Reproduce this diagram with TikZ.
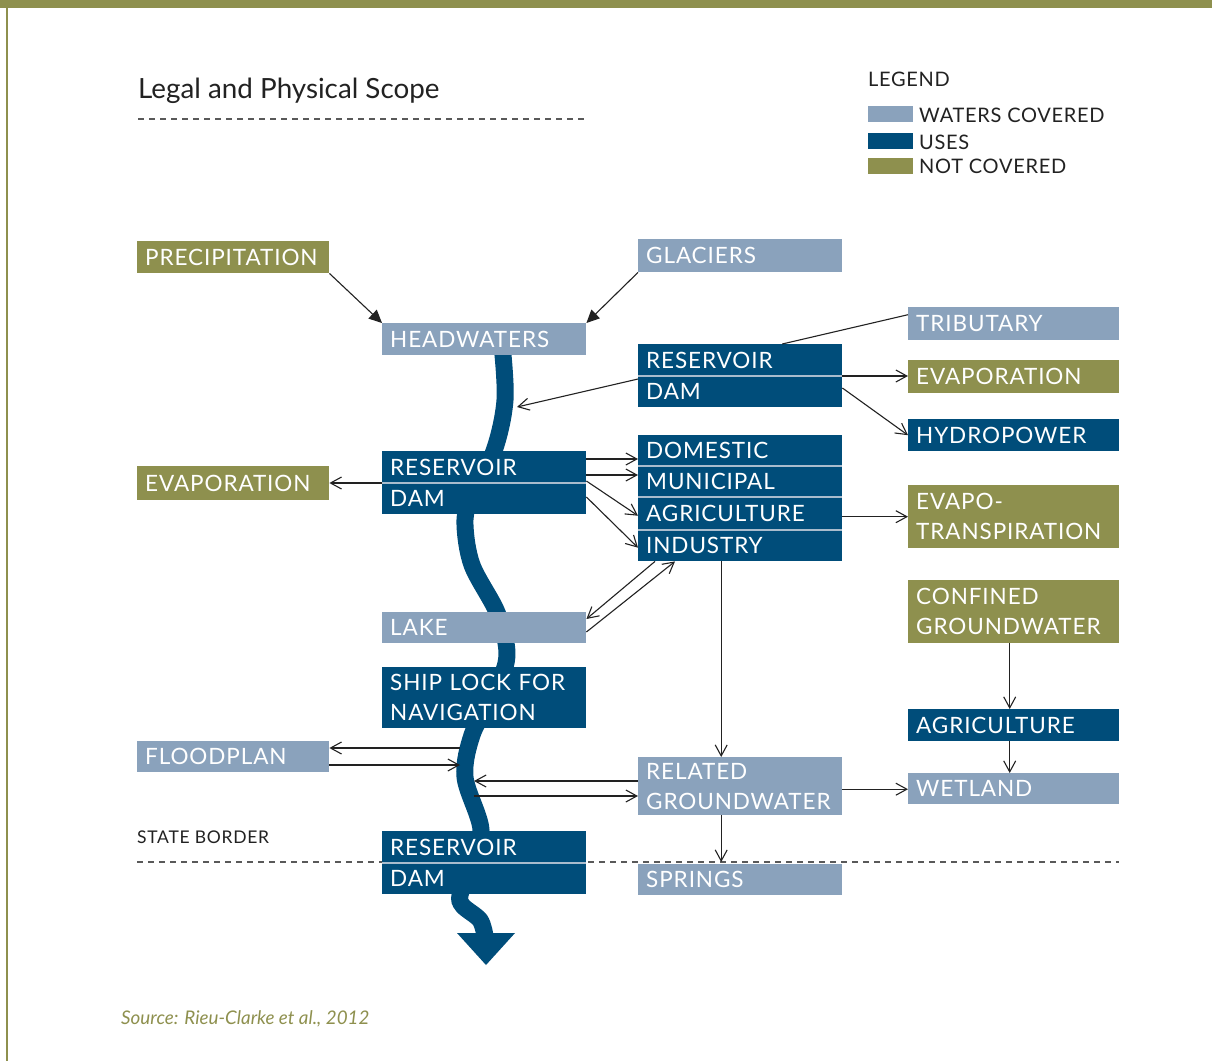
\documentclass[tikz,border=0pt]{standalone}
\usepackage{fontspec}
\setmainfont{Lato}
\newfontfamily\boxfont{Lato}[LetterSpace=4]
\newfontfamily\legfont{Lato}[LetterSpace=3.5]
\usetikzlibrary{arrows.meta}
\definecolor{olive}{HTML}{8E904E}
\definecolor{lblue}{HTML}{8AA2BC}
\definecolor{dblue}{HTML}{004D7A}
\definecolor{divc}{HTML}{A9BCCD}
\definecolor{inkc}{HTML}{222222}
\begin{document}
\begin{tikzpicture}[x=1pt,y=-1pt,
  bx/.style={anchor=north west, inner xsep=8pt, inner ysep=0pt, align=left, text=white,
    font=\boxfont\fontsize{22.5}{30}\selectfont, minimum height=#1},
  wA/.style={text width=188pt},
  wL/.style={text width=176pt},
  wR/.style={text width=195pt},
  wc/.style={fill=lblue}, us/.style={fill=dblue}, ncv/.style={fill=olive},
  divider/.style={draw=divc, line width=2pt},
  conn/.style={draw=inkc, line width=1.1pt, -{Straight Barb[length=11pt,width=12pt,line width=1.1pt]}},
  fconn/.style={draw=inkc, line width=1.1pt, -{Triangle[length=13pt,width=12pt]}},
  plain/.style={draw=inkc, line width=1.1pt},
  dashline/.style={draw=black!65, line width=1.1pt, dash pattern=on 6pt off 5pt},
  swatch/.style={anchor=north west, inner sep=0pt, minimum width=45pt, minimum height=16pt},
  legtext/.style={anchor=base west, inner sep=0pt, text=inkc, font=\legfont\fontsize{20}{24}\selectfont}
]
\useasboundingbox (0,0) rectangle (1212,1061);
\fill[white] (0,0) rectangle (1212,1061);
% frame
\fill[olive] (0,0) rectangle (1212,8);
\fill[olive] (6,0) rectangle (8,1061);

% title
\node[anchor=base west, inner sep=0pt, text=inkc, font=\fontsize{27.8}{34}\selectfont] (title) at (138,98) {Legal and Physical Scope};
\draw[dashline] (138,119) -- (585,119);

% legend
\node[legtext] (leg) at (868,86) {LEGEND};
\node[swatch, fill=lblue] (s1) at (868,106) {};
\node[swatch, fill=dblue] (s2) at (868,133) {};
\node[swatch, fill=olive] (s3) at (868,158) {};
\node[legtext] (l1) at (919,122) {WATERS COVERED};
\node[legtext] (l2) at (919,149) {USES};
\node[legtext] (l3) at (919,173) {NOT COVERED};

% state border
\node[anchor=base west, inner sep=0pt, text=inkc, font=\boxfont\fontsize{17.5}{20}\selectfont] (sb) at (137,843) {STATE BORDER};
\draw[dashline] (137,862) -- (1119,862);

% river
\draw[dblue, line width=17pt] plot[smooth, tension=0.55] coordinates {
  (502,345) (505,400) (494,451) (470,500) (465,525) (472,565) (496,610) (506,643)
  (505,667) (490,700) (472,735) (465,777) (481,830) (470,870) (460,895) (463,906) (480,920) (485,936)};
\fill[dblue] (457,933) -- (515,933) -- (486,965) -- cycle;

% boxes
\node[bx=32pt,wL,ncv] (prec) at (137,241) {PRECIPITATION};
\node[bx=33pt,wA,wc] (glac) at (638,239) {GLACIERS};
\node[bx=32pt,wA,wc] (head) at (382,323) {HEADWATERS};
\node[bx=33pt,wR,wc] (trib) at (908,307) {TRIBUTARY};
\node[bx=32pt,wA,us] (res1) at (638,344) {RESERVOIR};
\node[bx=31pt,wA,us] (dam1) at (638,376) {DAM};
\draw[divider] (dam1.north west) -- (dam1.north east);
\node[bx=33pt,wR,ncv] (evr) at (908,360) {EVAPORATION};
\node[bx=32pt,wR,us] (hydro) at (908,419) {HYDROPOWER};
\node[bx=32pt,wA,us] (res2) at (382,451) {RESERVOIR};
\node[bx=31pt,wA,us] (dam2) at (382,483) {DAM};
\draw[divider] (dam2.north west) -- (dam2.north east);
\node[bx=34pt,wL,ncv] (evl) at (137,466) {EVAPORATION};
\node[bx=31pt,wA,us] (dom) at (638,435) {DOMESTIC};
\node[bx=31pt,wA,us] (mun) at (638,466) {MUNICIPAL};
\node[bx=33pt,wA,us] (agr) at (638,497) {AGRICULTURE};
\node[bx=31pt,wA,us] (ind) at (638,530) {INDUSTRY};
\draw[divider] (mun.north west) -- (mun.north east);
\draw[divider] (agr.north west) -- (agr.north east);
\draw[divider] (ind.north west) -- (ind.north east);
\node[bx=63pt,wR,ncv] (evt) at (908,485) {EVAPO-\\TRANSPIRATION};
\node[bx=63pt,wR,ncv] (conf) at (908,580) {CONFINED\\GROUNDWATER};
\node[bx=31pt,wA,wc] (lake) at (382,612) {LAKE};
\node[bx=61pt,wA,us] (ship) at (382,667) {SHIP LOCK FOR\\NAVIGATION};
\node[bx=32pt,wR,us] (agr2) at (908,709) {AGRICULTURE};
\node[bx=31pt,wL,wc] (flood) at (137,741) {FLOODPLAN};
\node[bx=58pt,wA,wc] (rgw) at (638,757) {RELATED\\GROUNDWATER};
\node[bx=31pt,wR,wc] (wet) at (908,773) {WETLAND};
\node[bx=32pt,wA,us] (res3) at (382,831) {RESERVOIR};
\node[bx=31pt,wA,us] (dam3) at (382,863) {DAM};
\draw[divider] (dam3.north west) -- (dam3.north east);
\node[bx=31pt,wA,wc] (spr) at (638,864) {SPRINGS};

% source
\node[anchor=base west, inner sep=0pt, text=olive, font=\itshape\fontsize{18.8}{24}\selectfont] (src) at (121,1024) {Source: Rieu-Clarke et al., 2012};

% river points
\coordinate (rv1) at (517,407);
\coordinate (fl1) at (460,748);
\coordinate (fl2) at (460,765);
\coordinate (rg1) at (474,781);
\coordinate (rg2) at (474,796);

% connectors
\draw[fconn] (prec.south east) -- (head.north west);
\draw[fconn] (glac.south west) -- (head.north east);
\draw[plain] ([yshift=9pt]trib.west) -- ([xshift=42pt]res1.north);
\draw[conn] ([yshift=-3pt]dam1.north west) -- (rv1);
\draw[conn] (dam1.north east) -- (dam1.north east -| evr.west);
\draw[conn] ([yshift=-12pt]dam1.north east) -- (hydro.west);
\draw[conn] (dam2.north west) -- (dam2.north west -| evl.east);
\draw[conn] ([yshift=-8pt]res2.north east) -- ([yshift=-8pt]res2.north east -| dom.west);
\draw[conn] ([yshift=-24pt]res2.north east) -- ([yshift=-24pt]res2.north east -| mun.west);
\draw[conn] ([yshift=-30pt]res2.north east) -- ([yshift=-2pt]agr.west);
\draw[conn] ([yshift=-46pt]res2.north east) -- ([yshift=-2pt]ind.west);
\draw[conn] (evt.west -| agr.east) -- (evt.west);
\draw[conn] ([xshift=17pt]ind.south west) -- ([yshift=-7pt]lake.north east);
\draw[conn] ([yshift=-20pt]lake.north east) -- ([xshift=37pt]ind.south west);
\draw[conn] ([xshift=-19pt]ind.south) -- ([xshift=-19pt]rgw.north);
\draw[conn] ([xshift=-4pt]conf.south) -- ([xshift=-4pt]agr2.north);
\draw[conn] ([xshift=-4pt]agr2.south) -- ([xshift=-4pt]wet.north);
\draw[conn] ([yshift=-3pt]rgw.east) -- ([yshift=-3pt]rgw.east -| wet.west);
\draw[conn] ([xshift=-19pt]rgw.south) -- ([xshift=-19pt,yshift=2pt]spr.north);
\draw[conn] (fl1) -- (fl1 -| flood.east);
\draw[conn] (fl2 -| flood.east) -- (fl2);
\draw[conn] (rg1 -| rgw.west) -- (rg1);
\draw[conn] (rg2) -- (rg2 -| rgw.west);
\end{tikzpicture}
\end{document}
